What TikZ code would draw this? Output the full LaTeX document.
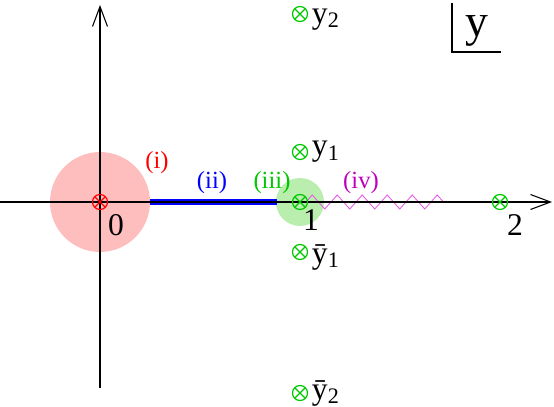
\documentclass[tikz,border=0pt]{standalone}
\usepackage{fontspec}
\setmainfont{Liberation Serif}
\usetikzlibrary{positioning, arrows.meta, decorations.pathmorphing}
\definecolor{poleGreen}{RGB}{0,200,0}
\definecolor{poleRed}{RGB}{255,0,0}
\definecolor{diskRed}{RGB}{255,190,190}
\definecolor{diskGreen}{RGB}{185,238,175}
\definecolor{cutBlue}{RGB}{0,0,255}
\definecolor{cutMag}{RGB}{190,0,190}
\definecolor{zigMag}{RGB}{230,90,230}

\begin{document}
\begin{tikzpicture}[scale=4,
  pole/.style={circle, draw=#1, line width=0.7pt, inner sep=0pt, minimum size=3mm,
    path picture={\draw[#1, line width=0.7pt]
      (path picture bounding box.north west) -- (path picture bounding box.south east)
      (path picture bounding box.north east) -- (path picture bounding box.south west);}},
  pole/.default=poleGreen,
  lbl/.style={font=\fontsize{18}{20}\selectfont, inner sep=1pt},
  tag/.style={font=\fontsize{14}{16}\selectfont, text=#1},
  axis/.style={line width=0.6pt, -{Straight Barb[length=4mm, width=3mm, line width=0.6pt]}}]
\useasboundingbox (-0.5,-1.025) rectangle (2.27,1.01);
% regions
\fill[diskRed] (0,0) circle (0.25);
\fill[diskGreen] (1,0) circle (0.12);
\coordinate (c0) at (0.25,0);
\coordinate (c1) at (0.885,0);
\draw[cutBlue, line width=3pt] (c0) -- (c1);
\coordinate (z0) at (1.03,0);
\coordinate (z1) at (1.75,0);
\draw[zigMag, line width=0.5pt, decorate, decoration={zigzag, segment length=5mm, amplitude=1.4mm}] (z0) -- (z1);
% axes
\coordinate (xl) at (-0.5,0);
\coordinate (xr) at (2.26,0);
\coordinate (yb) at (0,-0.93);
\coordinate (yt) at (0,0.985);
\draw[axis] (xl) -- (xr);
\draw[axis] (yb) -- (yt);
% poles
\node[pole=poleRed] (p0) at (0,0) {};
\node[pole] (p1) at (1,0) {};
\node[pole] (p2) at (2,0) {};
\node[pole] (y1) at (1,0.25) {};
\node[pole] (y2) at (1,0.94) {};
\node[pole] (yb1) at (1,-0.25) {};
\node[pole] (yb2) at (1,-0.955) {};
\node[lbl, right=1pt of y1, yshift=0pt] {y\textsubscript{1}};
\node[lbl, right=1pt of y2, yshift=-3pt] {y\textsubscript{2}};
\node[lbl, right=1pt of yb1, yshift=-3pt] {ȳ\textsubscript{1}};
\node[lbl, right=1pt of yb2] {ȳ\textsubscript{2}};
\node[lbl] (n0) at (0.08,-0.115) {0};
\node[lbl] (n1) at (1.055,-0.09) {1};
\node[lbl] (n2) at (2.075,-0.115) {2};
% labels of the pieces
\node[tag=poleRed] (t1) at (0.285,0.195) {(i)};
\node[tag=cutBlue] (t2) at (0.56,0.095) {(ii)};
\node[tag=poleGreen] (t3) at (0.86,0.095) {(iii)};
\node[tag=cutMag] (t4) at (1.305,0.095) {(iv)};
% plane
\coordinate (b0) at (1.76,0.995);
\coordinate (b1) at (1.76,0.75);
\coordinate (b2) at (2.005,0.75);
\draw[line width=0.6pt] (b0) -- (b1) -- (b2);
\node[font=\fontsize{26}{30}\selectfont, anchor=base, inner sep=0pt] (vy) at (1.885,0.825) {y};
\end{tikzpicture}
\end{document}
